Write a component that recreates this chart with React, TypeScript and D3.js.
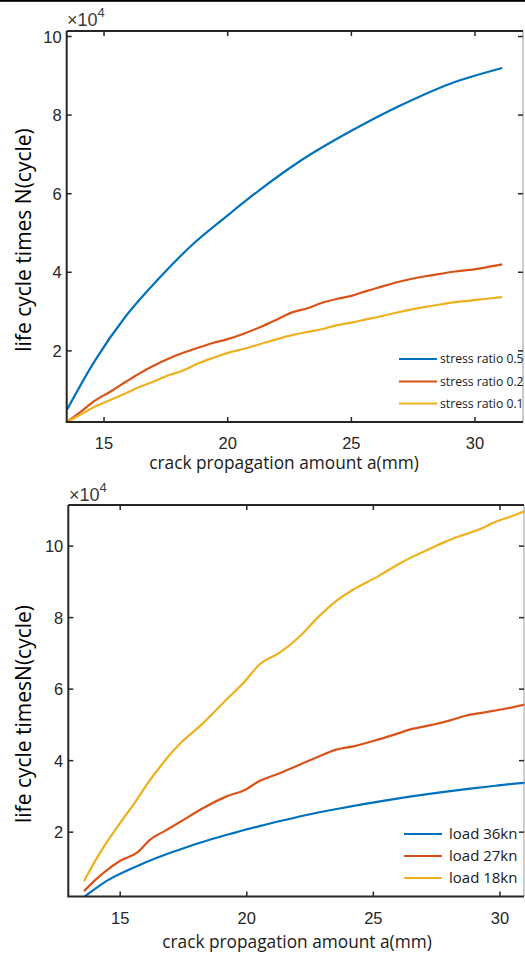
import React from "react";
import * as d3 from "d3";

// ---------- data (values in units of 10^4 cycles) ----------
const xTicks = [15, 20, 25, 30];
const yTicks = [2, 4, 6, 8, 10];

// top chart: stress ratio
const topLabels = ["stress ratio 0.5", "stress ratio 0.2", "stress ratio 0.1"];
const r05X = [13.5, 14.6, 15.9, 17.3, 18.6, 20.0, 21.3, 22.9, 25.0, 27.0, 29.0, 31.1];
const r05Y = [0.5, 1.72, 2.9, 3.9, 4.72, 5.45, 6.1, 6.82, 7.6, 8.25, 8.8, 9.2];
const r02X = [13.5, 14.0, 14.6, 15.3, 15.9, 16.5, 17.0, 17.6, 18.2, 18.8, 19.4, 20.0, 20.7, 21.3, 22.0, 22.6, 23.2, 23.8, 24.4, 25.0, 25.6, 26.2, 26.8, 27.4, 28.0, 28.6, 29.2, 29.8, 30.4, 31.1];
const r02Y = [0.19, 0.42, 0.72, 0.98, 1.22, 1.45, 1.62, 1.8, 1.95, 2.08, 2.2, 2.3, 2.45, 2.6, 2.8, 2.98, 3.08, 3.22, 3.32, 3.4, 3.52, 3.63, 3.74, 3.83, 3.9, 3.96, 4.02, 4.06, 4.12, 4.2];
const r01X = [13.5, 14.0, 14.6, 15.3, 15.9, 16.5, 17.0, 17.6, 18.2, 18.8, 19.4, 20.0, 20.7, 21.3, 22.0, 22.6, 23.2, 23.8, 24.4, 25.0, 25.6, 26.2, 26.8, 27.4, 28.0, 28.6, 29.2, 29.8, 30.4, 31.1];
const r01Y = [0.19, 0.36, 0.57, 0.76, 0.93, 1.1, 1.22, 1.38, 1.5, 1.68, 1.82, 1.95, 2.06, 2.17, 2.3, 2.4, 2.48, 2.55, 2.65, 2.72, 2.8, 2.88, 2.97, 3.05, 3.12, 3.18, 3.24, 3.28, 3.32, 3.37];

// bottom chart: load
const bottomLabels = ["load 36kn", "load 27kn", "load 18kn"];
const l36X = [13.6, 14.5, 15.5, 16.5, 17.5, 18.5, 19.5, 20.5, 21.5, 22.5, 23.5, 24.5, 25.5, 26.5, 27.5, 28.5, 29.5, 30.5, 31.0];
const l36Y = [0.2, 0.65, 1.0, 1.3, 1.55, 1.78, 1.98, 2.17, 2.34, 2.5, 2.64, 2.77, 2.89, 3.0, 3.1, 3.19, 3.27, 3.35, 3.38];
const l27X = [13.57, 14.0, 14.5, 15.0, 15.65, 16.2, 16.8, 17.4, 18.3, 19.2, 19.9, 20.5, 21.3, 22.1, 22.8, 23.5, 24.2, 25.0, 25.8, 26.5, 27.3, 28.0, 28.6, 29.4, 30.2, 31.0];
const l27Y = [0.35, 0.65, 0.95, 1.2, 1.42, 1.8, 2.05, 2.3, 2.68, 3.0, 3.17, 3.43, 3.65, 3.89, 4.1, 4.3, 4.4, 4.55, 4.72, 4.88, 5.0, 5.12, 5.25, 5.35, 5.45, 5.57];
const l18X = [13.57, 14.2, 15.0, 15.6, 16.1, 16.6, 17.0, 17.4, 18.2, 19.2, 19.9, 20.5, 21.3, 22.1, 22.8, 23.5, 24.2, 25.2, 26.0, 26.6, 27.3, 27.9, 28.5, 29.2, 29.9, 30.4, 31.0];
const l18Y = [0.63, 1.42, 2.26, 2.85, 3.38, 3.85, 4.2, 4.5, 5.0, 5.71, 6.2, 6.69, 7.02, 7.48, 8.0, 8.45, 8.78, 9.16, 9.5, 9.72, 9.95, 10.14, 10.3, 10.47, 10.7, 10.82, 10.98];

const COLORS = ["#0072BD", "#D95319", "#EDB120"];
const AXIS = "#262626";
const TICK_FONT = "'Liberation Sans', Arial, sans-serif";
const LABEL_FONT = "'Open Sans', 'Noto Sans', sans-serif";

type Series = { x: number[]; y: number[] };

function zip(s: Series) {
  return s.x.map((v, i) => [v, s.y[i]] as [number, number]);
}

type PanelProps = {
  xDomain: [number, number];
  xRange: [number, number];
  yDomain: [number, number];
  yRange: [number, number];
  series: Series[];
  labels: string[];
  ylabel: string;
  ylabelY: number;
  xlabelX: number;
  xlabelY: number;
  expY: number;
  expX: number;
  legend: { x1: number; x2: number; tx: number; ys: number[]; size: number };
};

function Panel(p: PanelProps) {
  const x = d3.scaleLinear().domain(p.xDomain).range(p.xRange);
  const y = d3.scaleLinear().domain(p.yDomain).range(p.yRange);
  const line = d3
    .line<[number, number]>()
    .x((d) => x(d[0]))
    .y((d) => y(d[1]))
    .curve(d3.curveMonotoneX);
  const [x0, x1] = p.xRange;
  const [yb, yt] = p.yRange;
  const tl = 5;
  return (
    <g>
      {p.series.map((s, i) => (
        <path key={i} d={line(zip(s)) || ""} fill="none" stroke={COLORS[i]} strokeWidth={2.2} strokeLinejoin="round" />
      ))}
      <line x1={x1} x2={x1} y1={yt} y2={yb} stroke="#9a9a9a" strokeWidth={1} />
      <path d={`M${x0},${yt}V${yb}H${x1}`} fill="none" stroke={AXIS} strokeWidth={2} />
      <line x1={x0} x2={x1} y1={yt} y2={yt} stroke={AXIS} strokeWidth={2} />
      {xTicks.map((t) => (
        <g key={"x" + t}>
          <line x1={x(t)} x2={x(t)} y1={yb} y2={yb - tl} stroke={AXIS} strokeWidth={1.5} />
          <line x1={x(t)} x2={x(t)} y1={yt} y2={yt + tl} stroke={AXIS} strokeWidth={1.5} />
          <text x={x(t)} y={yb + 27} textAnchor="middle" fontFamily={TICK_FONT} fontSize={16.5} fill={AXIS}>
            {t}
          </text>
        </g>
      ))}
      {yTicks.map((t) => (
        <g key={"y" + t}>
          <line x1={x0} x2={x0 + tl} y1={y(t)} y2={y(t)} stroke={AXIS} strokeWidth={1.5} />
          <line x1={x1} x2={x1 - tl} y1={y(t)} y2={y(t)} stroke={AXIS} strokeWidth={1.5} />
          <text x={x0 - 5} y={y(t) + 6} textAnchor="end" fontFamily={TICK_FONT} fontSize={16.5} fill={AXIS}>
            {t}
          </text>
        </g>
      ))}
      <text x={p.expX} y={p.expY} fontFamily={TICK_FONT} fontSize={18} fill="#3a3a3a">
        ×10
        <tspan dy={-9} fontSize={13}>4</tspan>
      </text>
      <text x={p.xlabelX} y={p.xlabelY} textAnchor="middle" fontFamily={LABEL_FONT} fontSize={17.3} fill="#1a1a1a">
        crack propagation amount a(mm)
      </text>
      <text
        transform={`translate(31,${p.ylabelY}) rotate(-90)`}
        textAnchor="middle"
        fontFamily={LABEL_FONT}
        fontSize={21}
        fill="#000"
      >
        {p.ylabel}
      </text>
      {p.labels.map((lab, i) => (
        <g key={lab}>
          <line x1={p.legend.x1} x2={p.legend.x2} y1={p.legend.ys[i]} y2={p.legend.ys[i]} stroke={COLORS[i]} strokeWidth={2.2} />
          <text x={p.legend.tx} y={p.legend.ys[i] + p.legend.size * 0.36} fontFamily={LABEL_FONT} fontSize={p.legend.size} fill="#1a1a1a">
            {lab}
          </text>
        </g>
      ))}
    </g>
  );
}

export default function App() {
  return (
    <svg
      width={525}
      height={953}
      viewBox="0 0 525 953"
      style={{ position: "absolute", left: 0, top: 0, background: "#fff" }}
    >
      <rect x={0} y={0} width={525} height={953} fill="#fff" />
      <rect x={0} y={0} width={525} height={1.8} fill="#000" />
      <Panel
        xDomain={[13.49, 31.94]}
        xRange={[66.7, 523]}
        yDomain={[0.19, 10.14]}
        yRange={[422, 31]}
        series={[
          { x: r05X, y: r05Y },
          { x: r02X, y: r02Y },
          { x: r01X, y: r01Y },
        ]}
        labels={topLabels}
        ylabel="life cycle times N(cycle)"
        ylabelY={240}
        xlabelX={284}
        xlabelY={469}
        expX={67}
        expY={26}
        legend={{ x1: 399, x2: 437, tx: 440, ys: [359, 381.5, 403.5], size: 12.2 }}
      />
      <Panel
        xDomain={[12.95, 30.95]}
        xRange={[68.3, 524]}
        yDomain={[0.2, 11.15]}
        yRange={[896.5, 505]}
        series={[
          { x: l36X, y: l36Y },
          { x: l27X, y: l27Y },
          { x: l18X, y: l18Y },
        ]}
        labels={bottomLabels}
        ylabel="life cycle timesN(cycle)"
        ylabelY={714}
        xlabelX={297}
        xlabelY={948}
        expX={69}
        expY={501}
        legend={{ x1: 404, x2: 442, tx: 449, ys: [834, 856, 878], size: 15 }}
      />
    </svg>
  );
}
